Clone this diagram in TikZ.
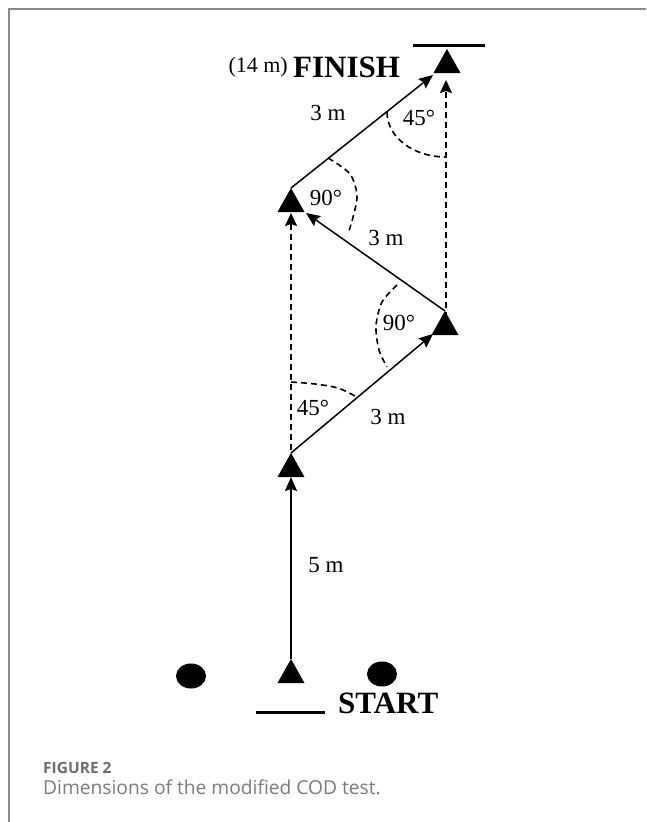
\documentclass[tikz,border=0pt]{standalone}
\usepackage{fontspec}
\setmainfont{Liberation Serif}
\newfontfamily\capfont{Open Sans}
\usetikzlibrary{arrows.meta}
\definecolor{capgray}{HTML}{6E6E6E}
\definecolor{framegray}{HTML}{8A8A8A}
\begin{document}
\begin{tikzpicture}[x=1pt,y=-1pt,
  solidarrow/.style={line width=1.5pt,-{Stealth[length=14pt,width=12pt,inset=2pt]}},
  dasharrow/.style={line width=1.8pt,dash pattern=on 6pt off 4pt,-{Stealth[length=13pt,width=12pt,inset=2pt]}},
  anglearc/.style={line width=1.6pt,dash pattern=on 6pt off 4pt},
  lbl/.style={font=\fontsize{23}{25}\selectfont,inner sep=0pt},
  bigtxt/.style={font=\fontsize{31}{33}\selectfont\bfseries,inner sep=0pt},
  cone/.pic={\fill (0,0) -- (13.5,24) -- (-13.5,24) -- cycle;},
]
\useasboundingbox (0,0) rectangle (646,822);
\fill[white] (0,0) rectangle (646,822);
\draw[framegray, line width=2pt] (9,822) -- (9,9) -- (646,9);

% cones (apex coordinates)
\coordinate (c1) at (291,659);
\coordinate (c2) at (291,453);
\coordinate (c3) at (445,311);
\coordinate (c4) at (291,188);
\coordinate (c5) at (447,49);
\foreach \c in {c1,c2,c3,c4,c5} \pic at (\c) {cone};

% arrow end points
\coordinate (t2) at (291,477);
\coordinate (t3) at (433,334);
\coordinate (t4) at (306,213);
\coordinate (t5) at (433,75);
\coordinate (d4) at (291,213);
\coordinate (d5) at (446,80);
\coordinate (s2) at (291,450);
\coordinate (s3) at (446,318);

% start / finish lines and dots
\draw[line width=3pt] (256,712) -- (325,712);
\draw[line width=3pt] (413,45) -- (485,45);
\fill (191,676) ellipse [x radius=15pt, y radius=12.5pt];
\fill (382,674) ellipse [x radius=15pt, y radius=12.5pt];

% solid arrows
\draw[solidarrow] (c1) -- (t2);
\draw[solidarrow] (c2) -- (t3);
\draw[solidarrow] (c3) -- (t4);
\draw[solidarrow] (c4) -- (t5);

% dashed arrows
\draw[dasharrow] (s2) -- (d4);
\draw[dasharrow] (s3) -- (d5);

% angle arcs
\draw[anglearc] (387,112) .. controls (387,137) and (413,157) .. (446,157);
\draw[anglearc] plot[smooth] coordinates {(328,158) (350,174) (357,198) (349,231)};
\draw[anglearc] plot[smooth] coordinates {(397,285) (382,302) (376,326) (379,350) (387,367)};
\draw[anglearc] plot[smooth] coordinates {(291,382) (315,384) (338,388) (355,396)};

% labels
\node[lbl] (l1) at (328,113) {3 m};
\node[lbl] (l2) at (386,238) {3 m};
\node[lbl] (l3) at (388,417) {3 m};
\node[lbl] (l4) at (326,565) {5 m};
\node[lbl] (a1) at (419,118) {45°};
\node[lbl] (a2) at (326,198) {90°};
\node[lbl] (a3) at (399,323) {90°};
\node[lbl] (a4) at (313,408) {45°};
\node[font=\fontsize{22}{24}\selectfont,inner sep=0pt,anchor=east] (fm) at (288,67) {(14 m)};
\node[bigtxt,anchor=west] (fin) at (293,67) {FINISH};
\node[bigtxt,anchor=west] (st) at (338,703) {START};

% caption
\node[anchor=base west,inner sep=0pt,text=capgray,font=\capfont\fontsize{15.5}{18}\selectfont\bfseries] (cap1) at (43,773) {FIGURE 2};
\node[anchor=base west,inner sep=0pt,text=capgray!90,font=\capfont\fontsize{19.2}{24}\selectfont] (cap2) at (43,794) {Dimensions of the modified COD test.};
\end{tikzpicture}
\end{document}
